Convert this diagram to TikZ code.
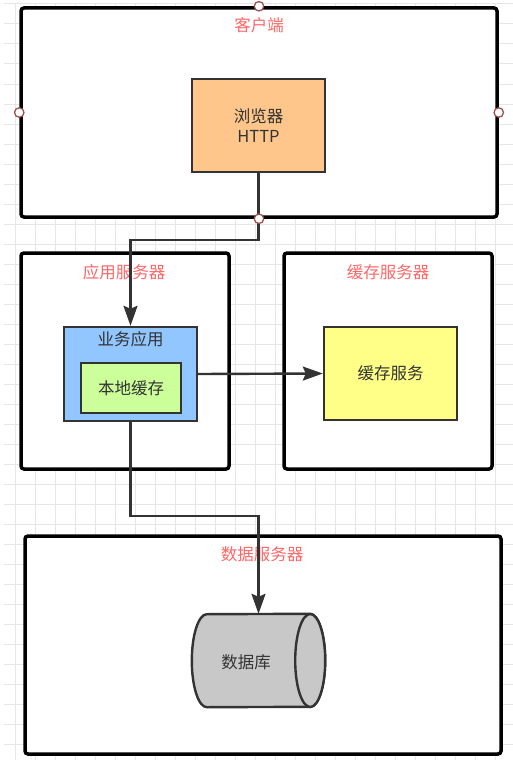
\documentclass[tikz,border=0pt]{standalone}
\usepackage{fontspec}
\setmainfont{Noto Sans CJK SC}
\usetikzlibrary{arrows.meta}
\definecolor{txt}{HTML}{333333}
\definecolor{titlered}{HTML}{FF6666}
\definecolor{gridc}{HTML}{E6E6E6}
\definecolor{portc}{HTML}{A05050}
\definecolor{browserfill}{HTML}{FFC68C}
\definecolor{bizfill}{HTML}{91C6FF}
\definecolor{localfill}{HTML}{CCFF99}
\definecolor{cachefill}{HTML}{FFFF88}
\definecolor{dbfill}{HTML}{C8C8C8}
\tikzset{
  container/.style={draw=black, line width=3.5pt, rounded corners=3pt, fill=white, inner sep=0pt},
  box/.style={draw=txt, line width=2.4pt, inner sep=0pt, text=txt, font=\fontsize{16.5}{20}\selectfont, align=center},
  ttl/.style={text=titlered, font=\fontsize{16.5}{20}\selectfont, inner sep=0pt},
  inttl/.style={text=txt, font=\fontsize{16.5}{20}\selectfont, inner sep=0pt},
  port/.style={circle, draw=portc, fill=white, line width=1.3pt, minimum size=9.5pt, inner sep=0pt},
  arr/.style={draw=txt, line width=2.4pt, -{Stealth[length=20pt, width=14pt, inset=3pt]}},
}
\begin{document}
\begin{tikzpicture}[x=1pt, y=-1pt]
\useasboundingbox (0,0) rectangle (513,760);
\fill[white] (0,0) rectangle (513,760);
% grid background
\foreach \gx in {15,35,...,495} \draw[gridc, line width=1pt] (\gx,4) -- (\gx,760);
\foreach \gy in {4,24,...,744} \draw[gridc, line width=1pt] (4,\gy) -- (513,\gy);

% containers
\node[container, minimum width=476pt, minimum height=209pt] (client) at (259,112.5) {};
\node[container, minimum width=208pt, minimum height=216pt] (appsrv) at (125,361) {};
\node[container, minimum width=208pt, minimum height=216pt] (cachesrv) at (388,361) {};
\node[container, minimum width=476pt, minimum height=218pt] (datasrv) at (263,645) {};

% titles
\node[ttl] (tclient) at (259,25) {客户端};
\node[ttl] (tapp) at (124,272) {应用服务器};
\node[ttl] (tcache) at (388,272) {缓存服务器};
\node[ttl] (tdata) at (262,554) {数据服务器};

% inner boxes
\node[box, fill=browserfill, minimum width=133pt, minimum height=93pt] (browser) at (258.5,125.5) {浏览器\\HTTP};
\node[box, fill=bizfill, minimum width=133pt, minimum height=94pt] (biz) at (130.5,374) {};
\node[inttl] (tbiz) at (130.5,339) {业务应用};
\node[box, fill=localfill, minimum width=100pt, minimum height=50pt] (local) at (131,388) {本地缓存};
\node[box, fill=cachefill, minimum width=133pt, minimum height=93pt] (cachesvc) at (390.5,373.5) {缓存服务};

% database cylinder
\node[inner sep=0pt, minimum width=133pt, minimum height=93pt] (db) at (258.5,660.5) {};
\path[draw=txt, line width=2.4pt, fill=dbfill]
  ([xshift=-15pt]db.north east) arc[start angle=90, end angle=-90, x radius=15pt, y radius=46.5pt]
  -- ([xshift=15pt]db.south west) arc[start angle=270, end angle=90, x radius=15pt, y radius=46.5pt]
  -- cycle;
\draw[draw=txt, line width=2.4pt, fill=dbfill] ([xshift=-15pt]db.east) ellipse[x radius=15pt, y radius=46.5pt];
\node[text=txt, font=\fontsize{16.5}{20}\selectfont, inner sep=0pt] (tdb) at (246,662) {数据库};

% connectors
\draw[arr] (browser.south) -- (browser.south |- 0,240) -| (biz.north);
\draw[arr] (biz.east) -- (cachesvc.west);
\draw[arr] (biz.south) -- (biz.south |- 0,516) -| (db.north);

% ports on client container
\node[port] (pn) at (client.north) {};
\node[port] (pw) at (client.west) {};
\node[port] (pe) at (client.east) {};
\node[port] (ps) at (client.south) {};
\end{tikzpicture}
\end{document}
